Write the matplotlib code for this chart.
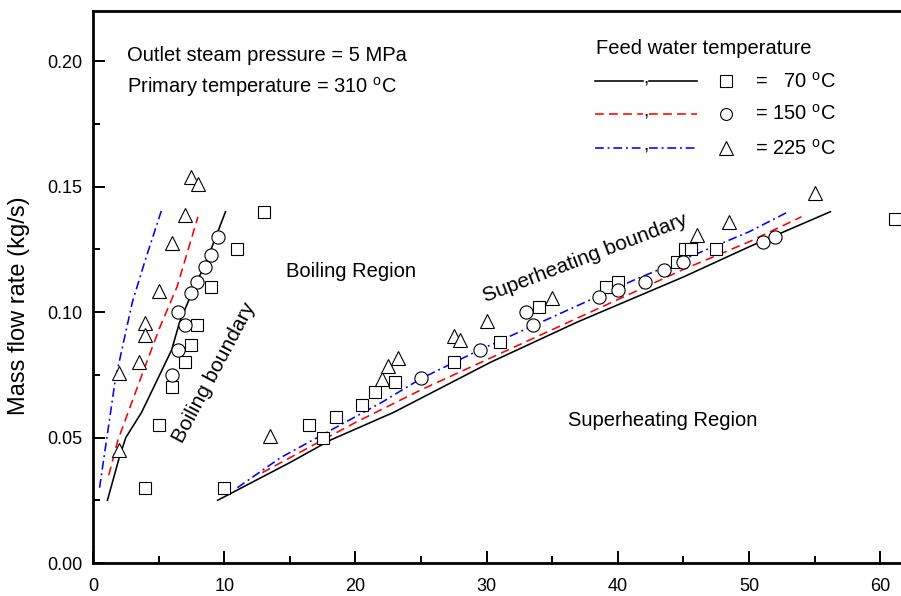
import numpy as np
import matplotlib.pyplot as plt

plt.rcParams['font.family'] = ['Liberation Sans', 'DejaVu Sans']
plt.rcParams['mathtext.fontset'] = 'custom'
plt.rcParams['mathtext.rm'] = 'Liberation Sans'
plt.rcParams['mathtext.it'] = 'Liberation Sans:italic'

## data

# boiling boundary curves (left)
bb70_x = [1.1, 2.0, 2.5, 3.7, 4.9, 6.0, 6.6, 7.4, 8.7, 10.1]
bb70_y = [0.025, 0.042, 0.050, 0.060, 0.073, 0.085, 0.096, 0.106, 0.121, 0.140]
bb150_x = [1.2, 1.9, 3.8, 5.1, 6.4, 8.0]
bb150_y = [0.035, 0.049, 0.076, 0.094, 0.110, 0.138]
bb225_x = [0.5, 1.7, 2.2, 3.0, 4.0, 5.25]
bb225_y = [0.030, 0.073, 0.085, 0.104, 0.121, 0.141]

# superheating boundary curves (right)
sb70_x = [9.5, 15.0, 18.1, 22.9, 30.3, 36.9, 45.0, 50.0, 56.2]
sb70_y = [0.025, 0.040, 0.049, 0.060, 0.080, 0.096, 0.114, 0.126, 0.140]
sb150_x = [12.9, 17.5, 20.0, 25.0, 30.0, 35.0, 40.0, 45.0, 50.0, 54.0]
sb150_y = [0.036, 0.049, 0.056, 0.069, 0.081, 0.093, 0.105, 0.117, 0.128, 0.138]
sb225_x = [11.0, 14.3, 18.5, 22.0, 25.0, 29.5, 35.0, 41.2, 45.0, 50.0, 53.0]
sb225_y = [0.030, 0.042, 0.054, 0.064, 0.0735, 0.085, 0.098, 0.1127, 0.121, 0.132, 0.140]

# measured points
sq_x = [13.0, 11.0, 9.0, 7.9, 7.5, 7.0, 6.0, 5.0, 4.0, 10.0, 16.5, 17.5, 18.5,
        20.5, 21.5, 23.0, 27.5, 31.0, 34.0, 39.1, 40.0, 44.5, 45.1, 45.6, 47.5, 61.1]
sq_y = [0.140, 0.125, 0.110, 0.095, 0.087, 0.080, 0.070, 0.055, 0.030, 0.030, 0.055,
        0.050, 0.058, 0.063, 0.068, 0.072, 0.080, 0.088, 0.102, 0.110, 0.112, 0.120,
        0.125, 0.125, 0.125, 0.137]
circ_x = [9.5, 9.0, 8.5, 7.9, 7.45, 6.5, 7.0, 6.5, 6.0, 25.0, 29.5, 33.0, 33.5,
          38.6, 40.0, 42.1, 43.5, 45.0, 51.1, 52.0]
circ_y = [0.130, 0.1227, 0.118, 0.112, 0.1076, 0.100, 0.095, 0.085, 0.075, 0.0737,
          0.085, 0.100, 0.095, 0.106, 0.109, 0.112, 0.1167, 0.120, 0.128, 0.130]
tri_x = [7.5, 8.0, 7.0, 6.0, 5.0, 4.0, 4.0, 3.5, 2.0, 2.0, 13.5, 22.0, 22.5, 23.25,
         27.5, 28.0, 30.0, 35.0, 46.0, 48.5, 55.0]
tri_y = [0.1538, 0.151, 0.1386, 0.1274, 0.1083, 0.0956, 0.0908, 0.080, 0.0757, 0.045,
         0.0506, 0.0733, 0.0785, 0.0816, 0.0904, 0.0888, 0.0964, 0.1056, 0.1307,
         0.1358, 0.1474]

labels = ['=   70 $^{\\rm o}$C', '= 150 $^{\\rm o}$C', '= 225 $^{\\rm o}$C']

lw = 1.15
sty70 = dict(color='black', lw=lw, ls='-')
sty150 = dict(color='red', lw=lw, dashes=(5.5, 3.3))
sty225 = dict(color='blue', lw=lw, dashes=(5.5, 2.4, 1.2, 2.4))
mk = dict(ls='none', mfc='white', mec='black', mew=0.8, zorder=5, clip_on=False)
mk_sq = dict(marker='s', ms=9, **mk)
mk_ci = dict(marker='o', ms=9.5, **mk)
mk_tr = dict(marker='^', ms=10.5, **mk)

fig = plt.figure(figsize=(9.01, 5.96), dpi=100)
ax = fig.add_axes([93 / 901, 33 / 596, 839.7 / 901, 552 / 596])

ax.plot(bb70_x, bb70_y, **sty70)
ax.plot(bb150_x, bb150_y, **sty150)
ax.plot(bb225_x, bb225_y, **sty225)
ax.plot(sb70_x, sb70_y, **sty70)
ax.plot(sb150_x, sb150_y, **sty150)
ax.plot(sb225_x, sb225_y, **sty225)

ax.plot(sq_x, sq_y, **mk_sq)
ax.plot(circ_x, circ_y, **mk_ci)
ax.plot(tri_x, tri_y, **mk_tr)

ax.set_xlim(0, 64)
ax.set_ylim(0, 0.22)
ax.set_xticks(np.arange(0, 61, 10))
ax.set_xticks(np.arange(5, 61, 10), minor=True)
ax.set_yticks(np.arange(0, 0.201, 0.05))
ax.set_yticks(np.arange(0.025, 0.21, 0.05), minor=True)
ax.yaxis.set_major_formatter(plt.FormatStrFormatter('%.2f'))
ax.tick_params(which='both', direction='in', top=False, right=False, width=1.4,
               labelsize=13)
ax.tick_params(which='major', length=8.5)
ax.tick_params(which='minor', length=5)
ax.tick_params(axis='x', pad=11)
ax.tick_params(axis='y', pad=7.5)
for s in ax.spines.values():
    s.set_linewidth(2.0)

ax.set_ylabel('Mass flow rate (kg/s)', fontsize=17)
ax.yaxis.set_label_coords(-63 / 839.7, 0.467)

# annotations
ax.text(2.6, 0.2024, 'Outlet steam pressure = 5 MPa', fontsize=14.5, va='center')
ax.text(2.6, 0.1896, 'Primary temperature = 310 $^{\\rm o}$C', fontsize=14.5, va='center')
ax.text(19.66, 0.1163, 'Boiling Region', fontsize=14.5, ha='center', va='center')
ax.text(43.4, 0.0566, 'Superheating Region', fontsize=14.5, ha='center', va='center')
ax.text(9.2, 0.0758, 'Boiling boundary', fontsize=15, ha='center', va='center',
        rotation=62, rotation_mode='anchor')
ax.text(37.5, 0.1215, 'Superheating boundary', fontsize=15, ha='center', va='center',
        rotation=21, rotation_mode='anchor')

# legend block
ax.text(38.3, 0.2052, 'Feed water temperature', fontsize=14.5, va='center')
rows_y = [0.192, 0.1789, 0.1653]
for y, sty, m, lab in zip(rows_y, [sty70, sty150, sty225], [mk_sq, mk_ci, mk_tr], labels):
    ax.plot([38.26, 41.92], [y, y], **sty)
    ax.plot([42.38, 46.04], [y, y], **sty)
    ax.text(42.15, y - 0.001, ',', fontsize=14, ha='center', va='baseline')
    m2 = dict(m)
    m2['ms'] = m['ms'] * 0.9
    ax.plot([48.25], [y], **m2)
    ax.text(50.46, y, lab, fontsize=14.5, va='center')

fig.savefig('out.png', dpi=100)
